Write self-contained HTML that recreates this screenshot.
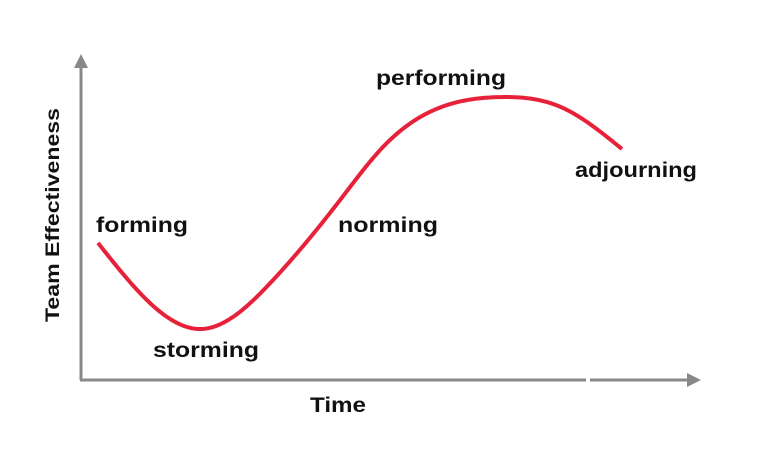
<!DOCTYPE html>
<html><head><meta charset="utf-8"><style>
html,body{margin:0;padding:0;background:#fff;width:768px;height:458px;overflow:hidden}
text{font-family:"Liberation Sans",sans-serif;font-weight:bold;fill:#111}
</style></head><body>
<svg id="chart" width="768" height="458" viewBox="0 0 768 458" xmlns="http://www.w3.org/2000/svg">
<g>
<line x1="81" y1="380" x2="81" y2="66" stroke="#888" stroke-width="3"/>
<polygon points="74,68 88,68 81,54" fill="#888"/>
</g>
<g>
<line x1="80" y1="380" x2="586" y2="380" stroke="#888" stroke-width="3"/>
<line x1="590" y1="380" x2="688" y2="380" stroke="#888" stroke-width="3"/>
<polygon points="687,373 687,387 701,380" fill="#888"/>
</g>
<text transform="translate(59,215) rotate(-90)" text-anchor="middle" font-size="19" textLength="214" lengthAdjust="spacingAndGlyphs">Team Effectiveness</text>
<text x="338" y="412" text-anchor="middle" font-size="21" textLength="56" lengthAdjust="spacingAndGlyphs">Time</text>
<path id="curve" fill="none" stroke="#e8213b" stroke-width="4" stroke-linejoin="round"/>
<text x="96" y="232" font-size="21" textLength="92" lengthAdjust="spacingAndGlyphs">forming</text>
<text x="153" y="357" font-size="21" textLength="106" lengthAdjust="spacingAndGlyphs">storming</text>
<text x="338" y="232" font-size="21" textLength="100" lengthAdjust="spacingAndGlyphs">norming</text>
<text x="376" y="85" font-size="21" textLength="130" lengthAdjust="spacingAndGlyphs">performing</text>
<text x="575" y="177" font-size="21" textLength="122" lengthAdjust="spacingAndGlyphs">adjourning</text>
</svg>
<script>
const timeValues = [0, 19.8, 33.4, 46.2, 54.4, 76.7, 88.7, 100];
const effectivenessValues = [45.7, 17, 33.3, 60, 77.7, 94.3, 90.7, 77];
function xScale(t){ return 98 + t * 5.24; }
function yScale(e){ return 380 - e * 3; }
// natural cubic spline (C2 smooth)
const n = timeValues.length;
const h = [];
for (let i=0;i<n-1;i++) h.push(timeValues[i+1]-timeValues[i]);
const a = new Array(n).fill(0), b = new Array(n).fill(0), c = new Array(n).fill(0), r = new Array(n).fill(0);
b[0]=1; b[n-1]=1;
for (let i=1;i<n-1;i++){
  a[i]=h[i-1]; b[i]=2*(h[i-1]+h[i]); c[i]=h[i];
  r[i]=6*((effectivenessValues[i+1]-effectivenessValues[i])/h[i]-(effectivenessValues[i]-effectivenessValues[i-1])/h[i-1]);
}
for (let i=1;i<n;i++){ const w=a[i]/b[i-1]; b[i]-=w*c[i-1]; r[i]-=w*r[i-1]; }
const M = new Array(n).fill(0);
M[n-1]=r[n-1]/b[n-1];
for (let i=n-2;i>=0;i--) M[i]=(r[i]-c[i]*M[i+1])/b[i];
let d = "";
for (let i=0;i<n-1;i++){
  const steps = 40;
  for (let s=0;s<=steps;s++){
    if (i>0 && s===0) continue;
    const t = timeValues[i] + h[i]*s/steps;
    const A = (timeValues[i+1]-t)/h[i], B = (t-timeValues[i])/h[i];
    const e = A*effectivenessValues[i] + B*effectivenessValues[i+1] + ((A*A*A-A)*M[i] + (B*B*B-B)*M[i+1])*h[i]*h[i]/6;
    d += (d ? " L" : "M") + xScale(t).toFixed(2) + "," + yScale(e).toFixed(2);
  }
}
document.getElementById('curve').setAttribute('d', d);
</script>
</body></html>
